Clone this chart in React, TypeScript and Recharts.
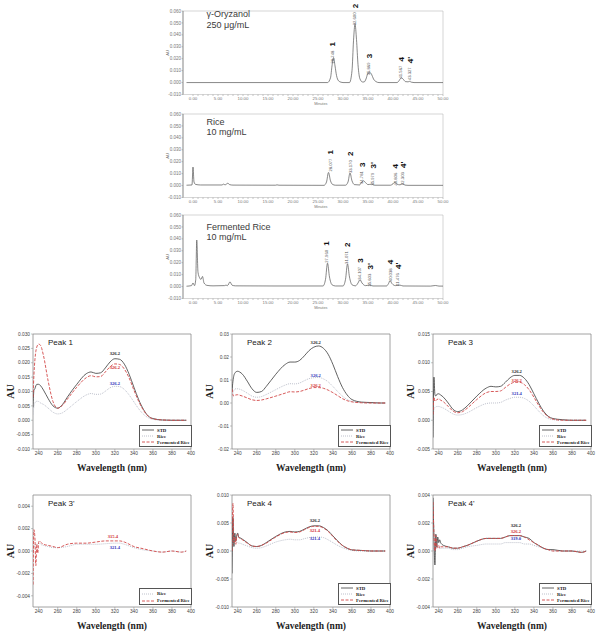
import React from "react";
import {
  LineChart,
  Line,
  XAxis,
  YAxis,
  ReferenceArea,
  ReferenceDot,
  Legend,
} from "recharts";

const SANS = "'Liberation Sans', Arial, sans-serif";
const SERIF = "'Liberation Serif', 'Times New Roman', serif";

// ---------- chromatograms: [minutes, AU] ----------
const STD_TRACE: [number, number][] = [
  [-1.3, 0], [26.9, 0], [27.5, 0.004], [27.8, 0.014], [28.1, 0.021], [28.4, 0.014],
  [28.7, 0.006], [29.1, 0.0015], [29.6, 0.0003], [30.0, 0], [31.3, 0], [31.8, 0.01],
  [32.1, 0.035], [32.4, 0.049], [32.7, 0.036], [33.0, 0.015], [33.4, 0.003], [33.9, 0.0005],
  [34.2, 0.0005], [34.6, 0.003], [34.9, 0.007], [35.3, 0.0087], [35.7, 0.007], [36.1, 0.003],
  [36.6, 0.0008], [37.2, 0], [40.8, 0], [41.2, 0.0015], [41.5, 0.0035], [41.7, 0.004],
  [42.0, 0.003], [42.5, 0.0008], [43.0, 0.0006], [43.3, 0.001], [43.7, 0.0003], [44.2, 0], [50, 0],
];

const RICE_TRACE: [number, number][] = [
  [-1.3, 0.0003], [-0.2, 0.0005], [0.0, 0.0155], [0.2, 0.003], [0.5, 0.001], [1.5, 0.0005],
  [5.8, 0.0005], [6.1, 0.0012], [6.4, 0.0006], [7.0, 0.002], [7.3, 0.0008], [8, 0.0004],
  [16.5, 0.0003], [16.8, 0.0006], [17.2, 0.0003], [26.2, 0.0002], [26.7, 0.003], [27.1, 0.011],
  [27.5, 0.004], [27.9, 0.001], [28.5, 0.0003], [30.5, 0.0003], [31.0, 0.003], [31.4, 0.0105],
  [31.8, 0.004], [32.3, 0.0008], [33.3, 0.0005], [33.7, 0.0025], [34.1, 0.004], [34.5, 0.0025],
  [35.0, 0.0008], [35.7, 0.0012], [36.3, 0.0003], [39.5, 0.0003], [40.0, 0.0015], [40.3, 0.0027],
  [40.8, 0.0012], [41.4, 0.0006], [41.9, 0.0015], [42.4, 0.0004], [43, 0.0002], [50, 0.0002],
];

const FERM_TRACE: [number, number][] = [
  [-1.3, 0.0003], [-0.3, 0.0008], [0.0, 0.003], [0.3, 0.0008], [0.55, 0.006], [0.75, 0.039],
  [1.0, 0.012], [1.3, 0.0075], [1.6, 0.006], [1.9, 0.0085], [2.2, 0.003], [2.8, 0.001],
  [4, 0.0006], [6.3, 0.0008], [6.6, 0.0012], [6.9, 0.0008], [7.4, 0.004], [7.8, 0.0012],
  [8.5, 0.0006], [16, 0.0005], [26.0, 0.0005], [26.5, 0.006], [26.9, 0.0196], [27.3, 0.008],
  [27.8, 0.0015], [28.5, 0.0005], [30.0, 0.0005], [30.5, 0.006], [30.9, 0.019], [31.3, 0.008],
  [31.8, 0.0015], [32.5, 0.0006], [33.0, 0.003], [33.4, 0.0058], [33.8, 0.003], [34.5, 0.0008],
  [35.3, 0.0012], [36.0, 0.0005], [38.7, 0.0005], [39.1, 0.0025], [39.4, 0.005], [39.8, 0.0025],
  [40.5, 0.0008], [41.4, 0.0012], [42.0, 0.0005], [47.5, 0.0004], [48.5, 0.0009], [49.2, 0.0004],
  [50, 0.0004],
];

type PeakMark = { id: string; rt: string; t: number; au: number };

const STD_PEAKS: PeakMark[] = [
  { id: "1", rt: "28.748", t: 27.8, au: 0.016 },
  { id: "2", rt: "32.600", t: 32.3, au: 0.048 },
  { id: "3", rt: "35.869", t: 35.1, au: 0.0061 },
  { id: "4", rt: "41.567", t: 41.5, au: 0.0034 },
  { id: "4'", rt: "43.327", t: 43.3, au: 0.002 },
];

const RICE_PEAKS: PeakMark[] = [
  { id: "1", rt: "28.077", t: 27.4, au: 0.0118 },
  { id: "2", rt: "33.170", t: 31.4, au: 0.0105 },
  { id: "3", rt: "34.781", t: 33.7, au: 0.0013 },
  { id: "3'", rt: "35.979", t: 35.9, au: 0.0 },
  { id: "4", rt: "40.806", t: 40.4, au: 0.0 },
  { id: "4'", rt: "42.303", t: 41.9, au: 0.0005 },
];

const FERM_PEAKS: PeakMark[] = [
  { id: "1", rt: "27.960", t: 26.6, au: 0.02 },
  { id: "2", rt: "31.071", t: 30.7, au: 0.019 },
  { id: "3", rt: "34.107", t: 33.3, au: 0.0058 },
  { id: "3'", rt: "35.603", t: 35.3, au: 0.0 },
  { id: "4", rt: "40.038", t: 39.4, au: 0.0045 },
  { id: "4'", rt: "41.476", t: 40.9, au: 0.0005 },
];

const CH_Y_TICKS = [-0.01, 0, 0.01, 0.02, 0.03, 0.04, 0.05, 0.06];
const CH_X_TICKS = Array.from({ length: 51 }, (_, i) => i);

// ---------- UV spectra ----------
const WL_TICKS = [240, 260, 280, 300, 320, 340, 360, 380, 400];

const WL_A = [234, 235, 236, 237, 238, 240, 242, 245, 250, 255, 260, 265, 270, 280, 290, 295, 300, 305, 310, 315, 320, 325, 330, 335, 340, 345, 350, 355, 360, 370, 380, 390, 395];

const P1_STD = [0.0045, 0.0105, 0.011, 0.012, 0.0125, 0.0125, 0.012, 0.0105, 0.0075, 0.005, 0.0042, 0.0055, 0.008, 0.0125, 0.0162, 0.0168, 0.0163, 0.0165, 0.0182, 0.0203, 0.0214, 0.0212, 0.0195, 0.016, 0.0115, 0.0072, 0.0038, 0.0015, 0.0006, 0.0001, 0, 0, 0];
const P1_RICE = [0.002, 0.005, 0.006, 0.0065, 0.0066, 0.0065, 0.006, 0.0055, 0.0042, 0.0028, 0.0022, 0.0026, 0.0038, 0.0065, 0.0088, 0.0093, 0.009, 0.0091, 0.0101, 0.0113, 0.0118, 0.0117, 0.0107, 0.0088, 0.0064, 0.004, 0.0021, 0.0009, 0.0003, 0, 0, 0, 0];
const P1_FERM = [0.008, 0.016, 0.021, 0.024, 0.0255, 0.0265, 0.026, 0.0225, 0.0135, 0.0065, 0.0042, 0.0052, 0.0073, 0.0115, 0.0148, 0.0155, 0.0151, 0.0152, 0.0168, 0.0186, 0.0196, 0.0194, 0.0178, 0.0147, 0.0105, 0.0066, 0.0035, 0.0014, 0.0005, 0.0001, 0, 0, 0];

const P2_STD = [0.005, 0.0095, 0.012, 0.013, 0.0135, 0.0138, 0.0135, 0.0125, 0.0095, 0.0062, 0.0046, 0.005, 0.0072, 0.0125, 0.0168, 0.0178, 0.0178, 0.0185, 0.0205, 0.0228, 0.0243, 0.0248, 0.0238, 0.0212, 0.0168, 0.0115, 0.0068, 0.0035, 0.0015, 0.0004, 0.0002, 0, 0];
const P2_RICE = [0.002, 0.0045, 0.0055, 0.006, 0.0062, 0.0062, 0.006, 0.0055, 0.0043, 0.003, 0.0025, 0.0028, 0.0037, 0.0058, 0.0078, 0.0084, 0.0083, 0.0087, 0.0097, 0.0106, 0.011, 0.0111, 0.0105, 0.0092, 0.0072, 0.005, 0.003, 0.0015, 0.0007, 0.0002, 0, 0, 0];
const P2_FERM = [0.006, 0.0035, 0.003, 0.0033, 0.0035, 0.0036, 0.0034, 0.003, 0.0022, 0.0014, 0.0011, 0.0013, 0.0018, 0.003, 0.0043, 0.0049, 0.0048, 0.005, 0.0056, 0.0063, 0.0067, 0.0067, 0.0064, 0.0056, 0.0045, 0.0032, 0.0019, 0.001, 0.0005, 0.0001, 0, 0, 0];

const P3_STD = [-0.003, 0.0075, 0.0045, 0.0042, 0.0045, 0.0046, 0.0044, 0.004, 0.003, 0.0019, 0.0015, 0.0018, 0.0025, 0.0042, 0.0056, 0.0059, 0.0058, 0.0059, 0.0066, 0.0074, 0.0078, 0.0078, 0.0073, 0.0062, 0.0046, 0.003, 0.0016, 0.0007, 0.0003, 0.0001, 0, 0, 0];
const P3_RICE = [0, 0.002, 0.0022, 0.0023, 0.0024, 0.0024, 0.0023, 0.0021, 0.0016, 0.0011, 0.0009, 0.001, 0.0013, 0.0022, 0.0029, 0.003, 0.003, 0.0031, 0.0035, 0.0038, 0.004, 0.004, 0.0038, 0.0033, 0.0025, 0.0016, 0.0008, 0.0003, 0.0001, 0, 0, 0, 0];
const P3_FERM = [0.001, 0.004, 0.0033, 0.0034, 0.0036, 0.0037, 0.0035, 0.0032, 0.0024, 0.0016, 0.0013, 0.0015, 0.0021, 0.0036, 0.0048, 0.005, 0.005, 0.0051, 0.0057, 0.0063, 0.0066, 0.0066, 0.0062, 0.0053, 0.004, 0.0026, 0.0014, 0.0006, 0.0002, 0, 0, 0, 0];

const WL_B = [234, 235, 236, 237, 238, 239, 240, 241, 242, 245, 250, 255, 260, 270, 280, 290, 300, 310, 315, 320, 325, 330, 340, 350, 360, 370, 380, 390, 395];
const P3B_RICE = [0, 0.0003, 0.0005, 0.0006, 0.0006, 0.0006, 0.0007, 0.0007, 0.0006, 0.0005, 0.0004, 0.0003, 0.0003, 0.0004, 0.0006, 0.0006, 0.0006, 0.00065, 0.00068, 0.0007, 0.0007, 0.0006, 0.0003, 0.0001, 0, -0.0001, 0, -0.0001, 0];
const P3B_FERM = [-0.003, 0.0019, 0.0012, -0.0013, 0.0006, -0.0002, 0.0008, 0.0009, 0.0008, 0.0006, 0.0005, 0.0004, 0.0003, 0.0006, 0.0007, 0.0007, 0.0008, 0.0009, 0.0009, 0.0009, 0.0009, 0.0008, 0.0004, 0.0002, 0, -0.0001, 0, -0.0001, 0];

const WL_C = [234, 235, 236, 237, 238, 239, 240, 241, 242, 245, 250, 255, 260, 265, 270, 280, 290, 295, 300, 305, 310, 315, 320, 325, 330, 335, 340, 345, 350, 355, 360, 370, 380, 390, 395];
const P4_STD = [-0.004, 0.006, 0.0008, 0.0032, 0.0018, 0.0028, 0.0032, 0.0025, 0.0024, 0.0021, 0.0015, 0.0009, 0.0008, 0.001, 0.0015, 0.0026, 0.0034, 0.0035, 0.0034, 0.0035, 0.0039, 0.0043, 0.0045, 0.0045, 0.0042, 0.0036, 0.0027, 0.0018, 0.001, 0.0005, 0.0002, 0.0001, 0, 0, 0];
const P4_RICE = [0, 0.0012, 0.0016, 0.0018, 0.0017, 0.0016, 0.0015, 0.0014, 0.0014, 0.0012, 0.0009, 0.0006, 0.0005, 0.0006, 0.0009, 0.0016, 0.002, 0.0021, 0.002, 0.002, 0.0022, 0.0024, 0.0025, 0.0025, 0.0024, 0.002, 0.0015, 0.001, 0.0006, 0.0003, 0.0001, 0, 0, 0, 0];
const P4_FERM = [0, 0.0085, 0.0015, 0.0025, 0.0012, 0.0026, 0.003, 0.0024, 0.0023, 0.002, 0.0014, 0.0009, 0.0008, 0.001, 0.0014, 0.0025, 0.0033, 0.0034, 0.0033, 0.0034, 0.0038, 0.0042, 0.0044, 0.0044, 0.0041, 0.0035, 0.0026, 0.0017, 0.001, 0.0005, 0.0002, 0.0001, 0, 0, 0];

const P4B_STD = [0.0038, 0.001, -0.001, 0.0012, 0.0003, 0.001, 0.0006, 0.0008, 0.0006, 0.0004, 0.0003, 0.0002, 0.0002, 0.0003, 0.0004, 0.0007, 0.0009, 0.0009, 0.0009, 0.0009, 0.001, 0.0011, 0.0011, 0.0011, 0.001, 0.0009, 0.0006, 0.0004, 0.0002, 0.0001, 0.0001, 0, 0, -0.0001, 0];
const P4B_RICE = [0, 0.0003, 0.0004, 0.0004, 0.0003, 0.0003, 0.0002, 0.0002, 0.0002, 0.0002, 0.0002, 0.0001, 0.0001, 0.0002, 0.0003, 0.0004, 0.0005, 0.0005, 0.0005, 0.0005, 0.0006, 0.0006, 0.0006, 0.0006, 0.0005, 0.0005, 0.0004, 0.0003, 0.0002, 0.0001, 0, 0, 0, 0, 0];
const P4B_FERM = [0.0035, 0.0012, 0, 0.0011, 0.0002, 0.0004, 0.0004, 0.0002, 0.0003, 0.0003, 0.0003, 0.0002, 0.0002, 0.0003, 0.0004, 0.0007, 0.0009, 0.0009, 0.0009, 0.0009, 0.001, 0.0011, 0.0011, 0.0011, 0.001, 0.0008, 0.0006, 0.0004, 0.0002, 0.0001, 0, 0, 0, -0.0001, 0];

type Note = { text: string; color: string; wl: number; au: number };
const BLACK = "#222";
const RED = "#d02c2c";
const BLUE = "#2b2fb8";

const P1_NOTES: Note[] = [
  { text: "326.2", color: BLACK, wl: 320, au: 0.0232 },
  { text: "326.2", color: RED, wl: 320, au: 0.0185 },
  { text: "326.2", color: BLUE, wl: 320, au: 0.0128 },
];
const P2_NOTES: Note[] = [
  { text: "326.2", color: BLACK, wl: 322, au: 0.0265 },
  { text: "326.2", color: BLUE, wl: 322, au: 0.0119 },
  { text: "326.2", color: RED, wl: 322, au: 0.0077 },
];
const P3_NOTES: Note[] = [
  { text: "326.2", color: BLACK, wl: 322, au: 0.0085 },
  { text: "326.2", color: RED, wl: 322, au: 0.0069 },
  { text: "321.4", color: BLUE, wl: 322, au: 0.0046 },
];
const P3B_NOTES: Note[] = [
  { text: "315.4", color: RED, wl: 318, au: 0.0013 },
  { text: "321.4", color: BLUE, wl: 320, au: 0.0003 },
];
const P4_NOTES: Note[] = [
  { text: "326.2", color: BLACK, wl: 321, au: 0.0055 },
  { text: "321.4", color: RED, wl: 321, au: 0.0037 },
  { text: "321.4", color: BLUE, wl: 321, au: 0.0023 },
];
const P4B_NOTES: Note[] = [
  { text: "326.2", color: BLACK, wl: 321, au: 0.0018 },
  { text: "326.2", color: RED, wl: 321, au: 0.0014 },
  { text: "319.0", color: BLUE, wl: 321, au: 0.0009 },
];

type Key = "rice" | "std" | "ferm";
const NAMES: Record<Key, string> = { std: "STD", rice: "Rice", ferm: "Fermented Rice" };
const STYLE: Record<Key, { stroke: string; dash?: string; w: number }> = {
  rice: { stroke: "#b7bac6", dash: "1 1", w: 0.9 },
  std: { stroke: "#3a3a3a", w: 0.8 },
  ferm: { stroke: "#d24848", dash: "3 1.5", w: 0.9 },
};

function table(wl: number[], cols: Partial<Record<Key, number[]>>) {
  return wl.map((w, i) => {
    const row: any = { wl: w };
    (Object.keys(cols) as Key[]).forEach((k) => (row[k] = cols[k]![i]));
    return row;
  });
}

function PeakTag({ viewBox, id, rt }: any) {
  const x = viewBox.x + (viewBox.width || 0) / 2;
  const y = viewBox.y + (viewBox.height || 0) / 2;
  return (
    <g>
      <text transform={`translate(${x},${y}) rotate(-90)`} fontSize={4.2} fontFamily={SANS} fill="#555" dominantBaseline="central">
        {rt}
      </text>
      <text transform={`translate(${x + 0.5},${y - 17}) rotate(-90)`} fontSize={8} fontWeight={700} fontFamily={SANS} fill="#111" dominantBaseline="central">
        {id}
      </text>
    </g>
  );
}

const CH_LEFT = 183;
const CH_W = 260;
const CH_H = 83.5;

function Chromatogram({ plotTop, trace, peaks, title, titleTop }: any) {
  const ML = 33, MT = 10, MR = 10, XH = 12;
  const data = trace.map(([t, v]: [number, number]) => ({ t, v }));
  return (
    <div style={{ position: "absolute", left: CH_LEFT - ML, top: plotTop - MT }}>
      <LineChart width={ML + CH_W + MR} height={MT + CH_H + XH} data={data} margin={{ top: MT, right: MR, left: 0, bottom: 0 }}>
        <ReferenceArea x1={-2} x2={50} y1={-0.01} y2={0.06} fill="none" stroke="#bbb" strokeWidth={0.6} />
        <XAxis
          dataKey="t"
          type="number"
          domain={[-2, 50]}
          ticks={CH_X_TICKS}
          interval={0}
          allowDataOverflow
          tickFormatter={(v: number) => (v % 5 === 0 ? v.toFixed(2) : "")}
          height={XH}
          axisLine={false}
          tickSize={1.5}
          tickMargin={0.5}
          tick={{ fontSize: 4.4, fill: "#777", fontFamily: SANS }}
          tickLine={{ stroke: "#888", strokeWidth: 0.5 }}
          label={(p: any) => (
            <text x={p.viewBox.x + p.viewBox.width * 0.53} y={p.viewBox.y + 10.5} fontSize={3.8} fill="#777" fontFamily={SANS} textAnchor="middle">
              Minutes
            </text>
          )}
        />
        <YAxis
          type="number"
          domain={[-0.01, 0.06]}
          ticks={CH_Y_TICKS}
          interval={0}
          allowDataOverflow
          tickFormatter={(v: number) => v.toFixed(3)}
          width={ML}
          axisLine={{ stroke: "#666", strokeWidth: 0.6 }}
          tickSize={1.5}
          tickMargin={0.5}
          tick={{ fontSize: 4.5, fill: "#777", fontFamily: SANS }}
          tickLine={{ stroke: "#888", strokeWidth: 0.5 }}
          label={(p: any) => {
            const cx = p.viewBox.x + 17;
            const cy = p.viewBox.y + p.viewBox.height / 2;
            return (
              <text x={cx} y={cy} transform={`rotate(-90, ${cx}, ${cy})`} fontSize={4.2} fill="#666" fontFamily={SANS} textAnchor="middle" dominantBaseline="central">
                AU
              </text>
            );
          }}
        />
        <Line dataKey="v" type="monotone" stroke="#555" strokeWidth={0.7} dot={false} isAnimationActive={false} />
        {peaks.map((pk: PeakMark) => (
          <ReferenceDot
            key={pk.id}
            x={pk.t}
            y={pk.au}
            r={0}
            fill="none"
            stroke="none"
            label={(p: any) => <PeakTag viewBox={p.viewBox} id={pk.id} rt={pk.rt} />}
          />
        ))}
      </LineChart>
      <div
        style={{
          position: "absolute",
          left: 206.5 - (CH_LEFT - ML),
          top: titleTop - (plotTop - MT),
          fontFamily: SANS,
          fontSize: 9,
          lineHeight: "10.5px",
          color: "#3a3a3a",
          whiteSpace: "nowrap",
        }}
      >
        {title.map((t: string) => (
          <div key={t}>{t}</div>
        ))}
      </div>
    </div>
  );
}

function Spectrum({ left, top, width, height, title, data, keys, domain, ticks, digits, notes }: any) {
  const ML = 33, MT = 8, MR = 8, XH = 30;
  const rows = keys.length;
  const boxH = rows === 3 ? 21 : 16;
  const legendContent = () => (
    <div
      style={{
        width: 49,
        height: boxH - 2,
        border: "0.7px solid #555",
        background: "#fff",
        padding: "1px 0 0 2px",
        fontFamily: SERIF,
        fontWeight: 700,
        fontSize: 4.8,
        color: "#222",
        boxSizing: "content-box",
      }}
    >
      {(["std", "rice", "ferm"] as Key[])
        .filter((k) => keys.includes(k))
        .map((k) => (
          <div key={k} style={{ display: "flex", alignItems: "center", height: rows === 3 ? 6.2 : 7 }}>
            <svg width={12} height={4} style={{ display: "block" }}>
              <line x1={0} y1={2} x2={12} y2={2} stroke={STYLE[k].stroke} strokeDasharray={STYLE[k].dash} strokeWidth={STYLE[k].w} />
            </svg>
            <span style={{ marginLeft: 3, whiteSpace: "nowrap" }}>{NAMES[k]}</span>
          </div>
        ))}
    </div>
  );
  return (
    <div style={{ position: "absolute", left: left - ML, top: top - MT }}>
      <LineChart width={ML + width + MR} height={MT + height + XH} data={data} margin={{ top: MT, right: MR, left: 0, bottom: 0 }}>
        <ReferenceArea x1={234} x2={400} y1={domain[0]} y2={domain[1]} fill="none" stroke="#8c8c8c" strokeWidth={0.8} />
        <XAxis
          dataKey="wl"
          type="number"
          domain={[234, 400]}
          ticks={WL_TICKS}
          interval={0}
          allowDataOverflow
          height={XH}
          axisLine={false}
          tickSize={2}
          tickMargin={1}
          tick={{ fontSize: 4.8, fill: "#444", fontFamily: SANS }}
          tickLine={{ stroke: "#888", strokeWidth: 0.5 }}
          label={(p: any) => (
            <text x={p.viewBox.x + p.viewBox.width / 2} y={p.viewBox.y + 22} fontSize={9.5} fontWeight={700} fill="#222" fontFamily={SERIF} textAnchor="middle">
              Wavelength (nm)
            </text>
          )}
        />
        <YAxis
          type="number"
          domain={domain}
          ticks={ticks}
          interval={0}
          allowDataOverflow
          width={ML}
          tickFormatter={(v: number) => v.toFixed(digits)}
          axisLine={false}
          tickSize={2}
          tickMargin={1}
          tick={{ fontSize: 4.8, fill: "#444", fontFamily: SANS }}
          tickLine={{ stroke: "#888", strokeWidth: 0.5 }}
          label={(p: any) => {
            const cx = p.viewBox.x + 10.5;
            const cy = p.viewBox.y + p.viewBox.height / 2;
            return (
              <text x={cx} y={cy} transform={`rotate(-90, ${cx}, ${cy})`} fontSize={10} fontWeight={700} fill="#222" fontFamily={SERIF} textAnchor="middle" dominantBaseline="central">
                AU
              </text>
            );
          }}
        />
        {(["rice", "std", "ferm"] as Key[])
          .filter((k) => keys.includes(k))
          .map((k) => (
            <Line
              key={k}
              dataKey={k}
              name={NAMES[k]}
              type="monotone"
              stroke={STYLE[k].stroke}
              strokeDasharray={STYLE[k].dash}
              strokeWidth={STYLE[k].w}
              dot={false}
              isAnimationActive={false}
            />
          ))}
        {notes.map((n: Note, i: number) => (
          <ReferenceDot
            key={i}
            x={n.wl}
            y={n.au}
            r={0}
            fill="none"
            stroke="none"
            label={{ value: n.text, fill: n.color, fontSize: 4.6, fontWeight: 700, fontFamily: SERIF }}
          />
        ))}
        <Legend
          layout="vertical"
          align="center"
          verticalAlign="middle"
          content={legendContent}
          wrapperStyle={{ position: "absolute", left: ML + width - 52, top: MT + height - boxH - 3, width: 52, height: boxH }}
        />
      </LineChart>
      <div
        style={{
          position: "absolute",
          left: ML + 15,
          top: MT + 3.5,
          fontFamily: SANS,
          fontSize: 8,
          lineHeight: "10px",
          color: "#222",
          whiteSpace: "nowrap",
        }}
      >
        {title}
      </div>
    </div>
  );
}

const COLS = [33, 232, 433];
const PW = 158;
const ROW1_TOP = 334;
const ROW1_H = 115;
const ROW2_TOP = 495;
const ROW2_H = 112;

export default function App() {
  return (
    <div style={{ position: "absolute", left: 0, top: 0, width: 607, height: 638, background: "#fff", overflow: "hidden" }}>
      <Chromatogram plotTop={10.5} trace={STD_TRACE} peaks={STD_PEAKS} title={["γ-Oryzanol", "250 μg/mL"]} titleTop={9} />
      <Chromatogram plotTop={113.8} trace={RICE_TRACE} peaks={RICE_PEAKS} title={["Rice", "10 mg/mL"]} titleTop={117} />
      <Chromatogram plotTop={214.8} trace={FERM_TRACE} peaks={FERM_PEAKS} title={["Fermented Rice", "10 mg/mL"]} titleTop={222} />

      <Spectrum
        left={COLS[0]} top={ROW1_TOP} width={PW} height={ROW1_H} title="Peak 1"
        data={table(WL_A, { std: P1_STD, rice: P1_RICE, ferm: P1_FERM })}
        keys={["std", "rice", "ferm"]}
        domain={[-0.01, 0.03]}
        ticks={[-0.01, -0.005, 0, 0.005, 0.01, 0.015, 0.02, 0.025, 0.03]}
        digits={3}
        notes={P1_NOTES}
      />
      <Spectrum
        left={COLS[1]} top={ROW1_TOP} width={PW} height={ROW1_H} title="Peak 2"
        data={table(WL_A, { std: P2_STD, rice: P2_RICE, ferm: P2_FERM })}
        keys={["std", "rice", "ferm"]}
        domain={[-0.02, 0.03]}
        ticks={[-0.02, -0.01, 0, 0.01, 0.02, 0.03]}
        digits={2}
        notes={P2_NOTES}
      />
      <Spectrum
        left={COLS[2]} top={ROW1_TOP} width={PW} height={ROW1_H} title="Peak 3"
        data={table(WL_A, { std: P3_STD, rice: P3_RICE, ferm: P3_FERM })}
        keys={["std", "rice", "ferm"]}
        domain={[-0.005, 0.015]}
        ticks={[-0.005, 0, 0.005, 0.01, 0.015]}
        digits={3}
        notes={P3_NOTES}
      />
      <Spectrum
        left={COLS[0]} top={ROW2_TOP} width={PW} height={ROW2_H} title="Peak 3'"
        data={table(WL_B, { rice: P3B_RICE, ferm: P3B_FERM })}
        keys={["rice", "ferm"]}
        domain={[-0.005, 0.005]}
        ticks={[-0.004, -0.002, 0, 0.002, 0.004]}
        digits={3}
        notes={P3B_NOTES}
      />
      <Spectrum
        left={COLS[1]} top={ROW2_TOP} width={PW} height={ROW2_H} title="Peak 4"
        data={table(WL_C, { std: P4_STD, rice: P4_RICE, ferm: P4_FERM })}
        keys={["std", "rice", "ferm"]}
        domain={[-0.01, 0.01]}
        ticks={[-0.01, -0.005, 0, 0.005, 0.01]}
        digits={3}
        notes={P4_NOTES}
      />
      <Spectrum
        left={COLS[2]} top={ROW2_TOP} width={PW} height={ROW2_H} title="Peak 4'"
        data={table(WL_C, { std: P4B_STD, rice: P4B_RICE, ferm: P4B_FERM })}
        keys={["std", "rice", "ferm"]}
        domain={[-0.004, 0.004]}
        ticks={[-0.004, -0.002, 0, 0.002, 0.004]}
        digits={3}
        notes={P4B_NOTES}
      />
    </div>
  );
}
